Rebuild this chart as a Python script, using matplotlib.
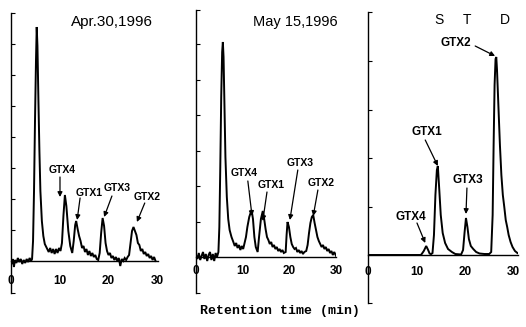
import matplotlib
matplotlib.use("Agg")
import matplotlib.pyplot as plt

W, H = 526, 327

# ── data: hand-read chromatogram traces (time in min, signal in arbitrary units) ──
apr_time = [0.0, 0.3, 0.5, 0.7, 0.9, 1.2, 1.5, 1.8, 2.1, 2.4, 2.7, 3.0, 3.3, 3.6, 3.9,
            4.2, 4.4, 4.6, 4.8, 5.0, 5.2, 5.35, 5.5, 5.7, 5.9, 6.1, 6.4, 6.7, 7.0, 7.4,
            7.8, 8.1, 8.4, 8.7, 9.0, 9.3, 9.6, 9.9, 10.2, 10.5, 10.8, 11.1, 11.4, 11.8,
            12.2, 12.6, 12.9, 13.2, 13.4, 13.7, 14.0, 14.3, 14.6, 14.9, 15.2, 15.5, 15.8,
            16.1, 16.4, 16.7, 17.0, 17.3, 17.6, 17.9, 18.2, 18.5, 18.8, 19.1, 19.4, 19.7,
            20.0, 20.3, 20.6, 20.9, 21.2, 21.5, 21.8, 22.1, 22.4, 22.7, 23.0, 23.3, 23.6,
            23.9, 24.2, 24.5, 24.8, 25.1, 25.4, 25.7, 26.0, 26.3, 26.6, 26.9, 27.2, 27.5,
            27.8, 28.1, 28.4, 28.7, 29.0, 29.3, 29.6]
apr_signal = [1, -3, 2, -6, 1, -2, 3, -1, 2, -3, 1, -2, 2, -1, 3,
              0, 2, 20, 70, 140, 200, 234, 215, 160, 110, 70, 40, 25, 17, 13,
              9, 13, 8, 12, 7, 12, 8, 13, 10, 18, 45, 66, 55, 30,
              15, 8, 20, 36, 40, 32, 25, 20, 13, 15, 9, 12, 6,
              10, 5, 8, 4, 6, 2, 1, 8, 28, 43, 35, 18, 10,
              6, 8, 3, 5, 1, 4, 0, 3, -5, 2, 0, 3, 1,
              4, 6, 18, 30, 34, 30, 26, 18, 16, 10, 12, 7, 9,
              5, 7, 3, 5, 1, 4, 0]

may_time = [0.0, 0.3, 0.6, 0.9, 1.2, 1.5, 1.8, 2.1, 2.4, 2.7, 3.0, 3.3, 3.6, 3.9, 4.2,
            4.5, 4.8, 5.0, 5.2, 5.4, 5.6, 5.75, 5.9, 6.1, 6.3, 6.6, 6.9, 7.2, 7.6, 8.0,
            8.3, 8.6, 8.9, 9.2, 9.5, 9.8, 10.1, 10.4, 10.7, 11.0, 11.4, 11.9, 12.2, 12.5,
            12.8, 13.2, 13.5, 13.9, 14.3, 14.6, 14.9, 15.2, 15.5, 15.8, 16.1, 16.4, 16.7,
            17.0, 17.3, 17.6, 17.9, 18.2, 18.5, 18.8, 19.2, 19.4, 19.6, 19.9, 20.2, 20.5,
            20.8, 21.1, 21.4, 21.7, 22.0, 22.3, 22.6, 22.9, 23.2, 23.6, 23.9, 24.2, 24.5,
            24.8, 25.1, 25.4, 25.7, 26.0, 26.3, 26.6, 26.9, 27.2, 27.5, 27.8, 28.1, 28.4,
            28.7, 29.0, 29.3, 29.6, 30.0]
may_signal = [2, -2, 4, -3, 1, 5, -2, 3, -4, 2, 5, -3, 3, -4, 4,
              0, 5, 30, 90, 160, 205, 215, 200, 150, 100, 60, 38, 27, 20, 15,
              11, 14, 9, 12, 7, 11, 8, 14, 20, 30, 40, 47, 38, 20,
              10, 5, 20, 38, 46, 38, 28, 20, 17, 13, 15, 10, 12,
              8, 10, 6, 8, 5, 7, 4, 5, 22, 35, 30, 20, 13,
              10, 8, 9, 5, 7, 4, 6, 3, 5, 6, 12, 24, 34,
              40, 42, 34, 27, 20, 16, 13, 10, 12, 8, 10, 6, 8,
              4, 6, 2, 5, 1]

std_time = [0.0, 10.8, 11.0, 11.5, 12.0, 12.4, 12.7, 13.0, 13.3, 13.6, 13.9, 14.2, 14.4,
            14.7, 15.0, 15.4, 15.9, 16.5, 17.3, 18.0, 19.2, 19.6, 19.9, 20.2, 20.5, 20.8,
            21.2, 21.7, 22.3, 23.0, 24.0, 25.0, 25.4, 25.7, 25.9, 26.1, 26.3, 26.45, 26.6,
            26.8, 27.0, 27.2, 27.5, 27.8, 28.1, 28.4, 28.7, 29.0, 29.4, 29.8, 30.3, 30.8,
            31.0]
std_signal = [0, 0, 0.5, 4, 9, 5, 1.5, 0.8, 2, 20, 60, 85, 89,
              65, 40, 22, 12, 6, 3, 1, 0.5, 5, 22, 37, 28, 16,
              9, 6, 3, 1.5, 1, 1, 3, 40, 110, 170, 196, 198, 185,
              160, 135, 110, 80, 60, 48, 35, 28, 20, 13, 8, 4, 2,
              1.5]

x_ticks = [0, 10, 20, 30]
peaks = ["GTX4", "GTX1", "GTX3", "GTX2"]

# label / arrow positions per panel (data coords): label xy, arrow start, arrow tip
apr_notes = [((10.5, 91), (10.1, 84), (10.1, 64)),
             ((16.1, 68), (14.2, 63), (13.6, 41)),
             ((21.8, 73), (20.7, 65), (19.1, 44)),
             ((27.9, 64), (27.4, 58), (25.8, 39))]
may_notes = [((10.4, 84), (11.1, 76), (12.0, 41)),
             ((16.0, 72), (15.2, 65), (14.3, 36)),
             ((22.2, 94), (21.8, 87), (20.1, 37)),
             ((26.7, 74), (26.1, 67), (25.1, 41))]
std_notes = [((8.9, 38), (10.1, 32), (11.8, 12)),
             ((12.1, 123), (11.8, 115), (14.4, 89)),
             ((20.5, 75), (20.4, 67), (20.2, 41)),
             ((18.2, 212), (22.1, 209), (26.2, 199))]

# ── panel geometry (pixels) ─────────────────────────────────────────────────
# left px, px per min, xmax, top px, axis-line px, bottom px, ytick step, label pad
PANELS = [
    dict(t=apr_time, s=apr_signal, notes=apr_notes, left=10.5, ppm=4.9, xmax=30,
         top=13, base=261, bottom=293, step=31, pad=10, fs=7.5),
    dict(t=may_time, s=may_signal, notes=may_notes, left=196, ppm=4.67, xmax=30,
         top=10, base=257, bottom=293, step=35.5, pad=5.5, fs=7.5),
    dict(t=std_time, s=std_signal, notes=std_notes, left=368, ppm=4.85, xmax=31,
         top=12, base=255, bottom=303, step=48.5, pad=8, fs=8.5),
]

fig = plt.figure(figsize=(W / 100, H / 100), dpi=100)
fig.patch.set_facecolor("white")

for p in PANELS:
    width = p["ppm"] * p["xmax"]
    ax = fig.add_axes([p["left"] / W, (H - p["bottom"]) / H,
                       width / W, (p["bottom"] - p["top"]) / H])
    ymin, ymax = -(p["bottom"] - p["base"]), p["base"] - p["top"]
    ax.set_xlim(0, p["xmax"])
    ax.set_ylim(ymin, ymax)
    ax.plot(p["t"], p["s"], color="black", lw=1.4, solid_joinstyle="miter")

    for side in ("top", "right"):
        ax.spines[side].set_visible(False)
    ax.spines["bottom"].set_position(("data", 0))
    ax.spines["left"].set_linewidth(1.0)
    ax.spines["bottom"].set_linewidth(1.0)

    ax.set_xticks(x_ticks)
    ax.set_xticklabels([str(v) for v in x_ticks], fontsize=8.5,
                       fontweight="bold", family="Liberation Sans")
    ax.tick_params(axis="x", length=0, pad=p["pad"])

    yt = [ymin]
    v = p["step"]
    while v < ymax - 5:
        yt.append(v)
        v += p["step"]
    yt.append(ymax)
    ax.set_yticks(yt)
    ax.set_yticklabels([])
    ax.tick_params(axis="y", direction="in", length=3, width=0.8)
    ax.patch.set_alpha(0)

    for name, (lab, start, tip) in zip(peaks, p["notes"]):
        ax.text(lab[0], lab[1], name, ha="center", va="center",
                fontsize=p["fs"], fontweight="bold", family="Liberation Sans")
        ax.annotate("", xy=tip, xytext=start,
                    arrowprops=dict(arrowstyle="-|>", color="black", lw=0.9,
                                    mutation_scale=7, shrinkA=0, shrinkB=0))


def px(x, y):
    return x / W, 1 - y / H


fig.text(*px(112, 22), "Apr.30,1996", ha="center", va="center",
         fontsize=11, family="Liberation Sans")
fig.text(*px(295, 22), "May 15,1996", ha="center", va="center",
         fontsize=10.5, family="Liberation Sans")
for letter, xp in zip("STD", (439, 467, 505)):
    fig.text(*px(xp, 20), letter, ha="center", va="center",
             fontsize=10, family="Liberation Sans")

fig.text(*px(280, 311), "Retention time (min)", ha="center", va="center",
         fontsize=9.5, fontweight="bold", family="Liberation Mono")

fig.savefig("out.png", dpi=100, facecolor="white")
